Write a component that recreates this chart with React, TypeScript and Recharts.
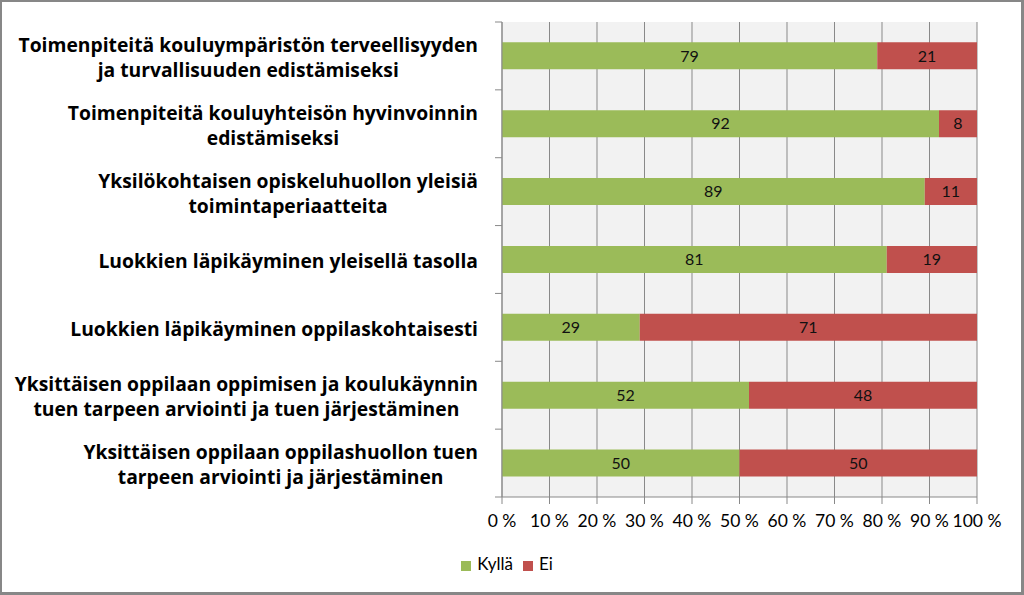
import React from 'react';
import { BarChart, Bar, XAxis, YAxis, CartesianGrid, Legend, LabelList } from 'recharts';

const categories: string[][] = [
  ['Toimenpiteitä kouluympäristön terveellisyyden', 'ja turvallisuuden edistämiseksi'],
  ['Toimenpiteitä kouluyhteisön hyvinvoinnin', 'edistämiseksi'],
  ['Yksilökohtaisen opiskeluhuollon yleisiä', 'toimintaperiaatteita'],
  ['Luokkien läpikäyminen yleisellä tasolla'],
  ['Luokkien läpikäyminen oppilaskohtaisesti'],
  ['Yksittäisen oppilaan oppimisen ja koulukäynnin', 'tuen tarpeen arviointi ja tuen järjestäminen'],
  ['Yksittäisen oppilaan oppilashuollon tuen', 'tarpeen arviointi ja järjestäminen'],
];
const kylla = [79, 92, 89, 81, 29, 52, 50];
const ei = [21, 8, 11, 19, 71, 48, 50];
const xTicks = [0, 10, 20, 30, 40, 50, 60, 70, 80, 90, 100];
const seriesNames = ['Kyllä', 'Ei'];

const data = categories.map((lines, i) => ({
  name: lines.join('\n'),
  kylla: kylla[i],
  ei: ei[i],
}));

const W = 1024;
const H = 595;
const M_TOP = 22;
const M_RIGHT = 47;
const M_BOTTOM = 12;
const XAXIS_H = 56;
const LEGEND_H = 30;
const YAXIS_W = 502;
const PLOT_H = H - M_TOP - M_BOTTOM - XAXIS_H - LEGEND_H;
const FONT = 'Lato, "Open Sans", sans-serif';
const LABEL_FONT = '"Open Sans"';
const LABEL_FS = 19.3;
const LINE_H = 25;
const LABEL_GAP = 24;
const GRID = '#898989';
const GREEN = '#9BBB59';
const RED = '#C0504D';

let ctx: CanvasRenderingContext2D | null = null;
function measure(text: string, font: string): number {
  if (!ctx) ctx = document.createElement('canvas').getContext('2d');
  if (!ctx) return text.length * 10;
  ctx.font = font;
  return ctx.measureText(text).width;
}

function CatTick(props: any) {
  const { x, y, payload, index } = props;
  const lines: string[] = String(payload.value).split('\n');
  const font = `bold ${LABEL_FS}px ${LABEL_FONT}`;
  const maxW = Math.max(...lines.map((l) => measure(l, font)));
  const cx = x - LABEL_GAP - maxW / 2;
  const n = lines.length;
  const band = PLOT_H / categories.length;
  return (
    <g>
      <line x1={x - 7} x2={x} y1={y - band / 2} y2={y - band / 2} stroke={GRID} />
      {index === categories.length - 1 && (
        <line x1={x - 7} x2={x} y1={y + band / 2} y2={y + band / 2} stroke={GRID} />
      )}
      <text textAnchor="middle" fontFamily={LABEL_FONT} fontWeight="bold" fontSize={LABEL_FS} fill="#000">
        {lines.map((l, i) => (
          <tspan key={i} x={cx} y={y + (i - (n - 1) / 2) * LINE_H + 2} dy="0.35em">
            {l}
          </tspan>
        ))}
      </text>
    </g>
  );
}

export default function App() {
  return (
    <div style={{ position: 'relative', width: W, height: H, background: '#fff' }}>
      <style>{`body{margin:0;}`}</style>
      <BarChart
        width={W}
        height={H}
        data={data}
        layout="vertical"
        margin={{ top: M_TOP, right: M_RIGHT, bottom: M_BOTTOM, left: 0 }}
        barCategoryGap="30%"
      >
        <CartesianGrid horizontal={false} stroke={GRID} fill="#F2F2F2" fillOpacity={1} />
        <XAxis
          type="number"
          domain={[0, 100]}
          ticks={xTicks}
          interval={0}
          tickFormatter={(v: number) => `${v} %`}
          tick={{ fontSize: 17.5, fill: '#000', fontFamily: FONT }}
          tickSize={7}
          tickMargin={11}
          stroke={GRID}
          height={XAXIS_H}
        />
        <YAxis
          type="category"
          dataKey="name"
          width={YAXIS_W}
          interval={0}
          tickLine={false}
          tickSize={0}
          tickMargin={0}
          stroke={GRID}
          tick={<CatTick />}
        />
        <Legend
          verticalAlign="bottom"
          align="center"
          iconType="square"
          iconSize={10}
          height={LEGEND_H}
          itemSorter={(item: any) => seriesNames.indexOf(item.value)}
          wrapperStyle={{ height: LEGEND_H, left: 0, width: W, fontFamily: FONT, fontSize: 17 }}
          formatter={(value: string) => <span style={{ color: '#000', paddingLeft: 2 }}>{value}</span>}
        />
        <Bar dataKey="kylla" name={seriesNames[0]} stackId="a" fill={GREEN} isAnimationActive={false}>
          <LabelList dataKey="kylla" position="center" fill="#111" fontSize={16} fontFamily={FONT} />
        </Bar>
        <Bar dataKey="ei" name={seriesNames[1]} stackId="a" fill={RED} isAnimationActive={false}>
          <LabelList dataKey="ei" position="center" fill="#111" fontSize={16} fontFamily={FONT} />
        </Bar>
      </BarChart>
      <div
        style={{
          position: 'absolute',
          left: 0,
          top: 0,
          width: W,
          height: H,
          boxSizing: 'border-box',
          border: '2px solid #878787',
          borderRightWidth: 3,
          borderBottomWidth: 3,
          pointerEvents: 'none',
        }}
      />
    </div>
  );
}
